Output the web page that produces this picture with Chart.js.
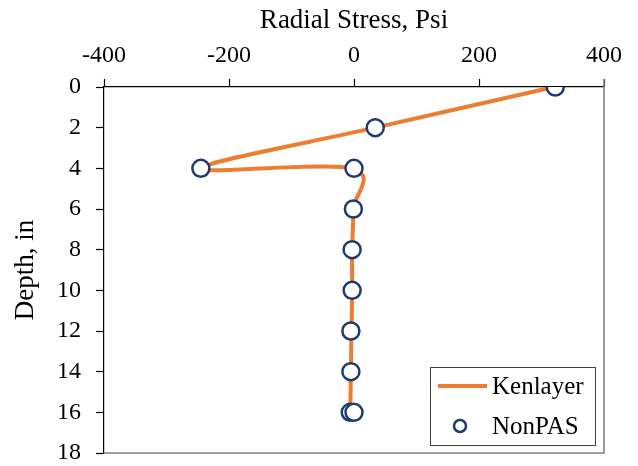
<!DOCTYPE html>
<html>
<head>
<meta charset="utf-8">
<script src="https://cdn.jsdelivr.net/npm/chart.js@4/dist/chart.umd.min.js"></script>
<style>
  html, body { margin: 0; padding: 0; background: #ffffff; }
  #wrap { position: relative; width: 638px; height: 466px; }
</style>
</head>
<body>
<div id="wrap"><canvas id="c" width="638" height="466"></canvas></div>
<script>
// ---- data ----
const kenlayerDepth  = [0, 2, 4, 4, 6, 8, 10, 12, 14, 16];
const kenlayerStress = [320, 34, -245, -3, -1, -3, -3, -4, -5, -6];
const nonpasDepth    = [0, 2, 4, 4, 6, 8, 10, 12, 14, 16, 16];
const nonpasStress   = [322, 34, -245, 0, -1, -3, -3, -5, -5, -6, 0];
const stressTicks    = [-400, -200, 0, 200, 400];
const depthTicks     = [0, 2, 4, 6, 8, 10, 12, 14, 16, 18];
const seriesLabels   = ['Kenlayer', 'NonPAS'];
const axisTitles     = { x: 'Radial Stress, Psi', y: 'Depth, in' };

const toPoints = (xs, ys) => xs.map((x, i) => ({ x: x, y: ys[i] }));

const FONT = "'Liberation Serif', 'Times New Roman', serif";
const ORANGE = '#ED7D31';
const NAVY = '#1F3A6E';

// Excel-like smoothing: control points = P -/+ (next - prev) / 6
const excelSmooth = {
  id: 'excelSmooth',
  beforeDatasetDraw(chart, args) {
    const meta = args.meta;
    const line = meta.dataset;
    if (!line || !line.options || !line.options.tension) return;
    line.updateControlPoints(chart.chartArea, meta.indexAxis);
    const pts = line.points;
    for (let i = 0; i < pts.length; i++) {
      const p = pts[i], prev = pts[i - 1] || p, next = pts[i + 1] || p;
      const tx = (next.x - prev.x) / 6, ty = (next.y - prev.y) / 6;
      p.cp1x = p.x - tx; p.cp1y = p.y - ty;
      p.cp2x = p.x + tx; p.cp2y = p.y + ty;
    }
  }
};

// right / bottom plot border (gray)
const plotBorder = {
  id: 'plotBorder',
  beforeDatasetsDraw(chart) {
    const a = chart.chartArea, ctx = chart.ctx;
    ctx.save();
    ctx.strokeStyle = '#7f7f7f';
    ctx.lineWidth = 1.5;
    ctx.beginPath();
    ctx.moveTo(a.left, a.bottom);
    ctx.lineTo(a.right, a.bottom);
    ctx.lineTo(a.right, a.top - 8);
    ctx.stroke();
    ctx.restore();
  }
};

// legend box inside the plot, bottom-right
const boxLegend = {
  id: 'boxLegend',
  afterDatasetsDraw(chart) {
    const a = chart.chartArea, ctx = chart.ctx;
    const w = 165, h = 78;
    const x0 = a.right - 9 - w, y0 = a.bottom - 8 - h;
    ctx.save();
    ctx.fillStyle = '#ffffff';
    ctx.fillRect(x0, y0, w, h);
    ctx.strokeStyle = '#404040';
    ctx.lineWidth = 1;
    ctx.strokeRect(x0 + 0.5, y0 + 0.5, w, h);
    const ds = chart.data.datasets;
    const r1 = y0 + 19, r2 = y0 + 59;
    ctx.strokeStyle = ds[0].borderColor;
    ctx.lineWidth = 4;
    ctx.beginPath();
    ctx.moveTo(x0 + 8, r1);
    ctx.lineTo(x0 + 57, r1);
    ctx.stroke();
    ctx.beginPath();
    ctx.arc(x0 + 30, r2, 6, 0, Math.PI * 2);
    ctx.fillStyle = '#ffffff';
    ctx.fill();
    ctx.strokeStyle = ds[1].pointBorderColor;
    ctx.lineWidth = 2.5;
    ctx.stroke();
    ctx.fillStyle = '#000000';
    ctx.font = '25px ' + FONT;
    ctx.textBaseline = 'middle';
    ctx.textAlign = 'left';
    ctx.fillText(ds[0].label, x0 + 62, r1 + 1);
    ctx.fillText(ds[1].label, x0 + 62, r2 + 1);
    ctx.restore();
  }
};

Chart.defaults.font.family = FONT;
Chart.defaults.color = '#000000';

new Chart(document.getElementById('c'), {
  type: 'line',
  data: {
    datasets: [
      {
        label: seriesLabels[0],
        data: toPoints(kenlayerStress, kenlayerDepth),
        borderColor: ORANGE,
        backgroundColor: ORANGE,
        borderWidth: 4,
        tension: 0.4,
        pointRadius: 0,
        fill: false,
        order: 2
      },
      {
        label: seriesLabels[1],
        data: toPoints(nonpasStress, nonpasDepth),
        showLine: false,
        pointRadius: 8.5,
        pointBorderWidth: 2.5,
        pointBorderColor: NAVY,
        pointBackgroundColor: '#ffffff',
        order: 1
      }
    ]
  },
  options: {
    responsive: false,
    animation: false,
    events: [],
    layout: { padding: { left: 0, top: 0, right: 34, bottom: 0 } },
    plugins: {
      legend: { display: false },
      tooltip: { enabled: false }
    },
    scales: {
      x: {
        type: 'linear',
        position: 'top',
        min: stressTicks[0],
        max: stressTicks[stressTicks.length - 1],
        afterBuildTicks: (s) => { s.ticks = stressTicks.map(v => ({ value: v })); },
        afterFit: (s) => { s.height = 87; },
        grid: { drawOnChartArea: false, tickLength: 8, tickColor: '#000000', tickWidth: 1.2 },
        border: { color: '#000000', width: 1.2 },
        ticks: { font: { size: 24 }, padding: 9, maxRotation: 0 },
        title: { display: true, text: axisTitles.x, font: { size: 27 }, padding: { top: 5, bottom: 0 } }
      },
      y: {
        type: 'linear',
        reverse: true,
        min: depthTicks[0],
        max: depthTicks[depthTicks.length - 1],
        afterBuildTicks: (s) => { s.ticks = depthTicks.map(v => ({ value: v })); },
        afterFit: (s) => { s.width = 104; s.paddingTop = 0; s.paddingBottom = 13; },
        grid: { drawOnChartArea: false, tickLength: 8, tickColor: '#000000', tickWidth: 1.2 },
        border: { color: '#000000', width: 1.2 },
        ticks: { font: { size: 24 }, padding: 15 },
        title: { display: true, text: axisTitles.y, font: { size: 27 }, padding: { top: 10, bottom: 0 } }
      }
    }
  },
  plugins: [excelSmooth, plotBorder, boxLegend]
});
</script>
</body>
</html>
